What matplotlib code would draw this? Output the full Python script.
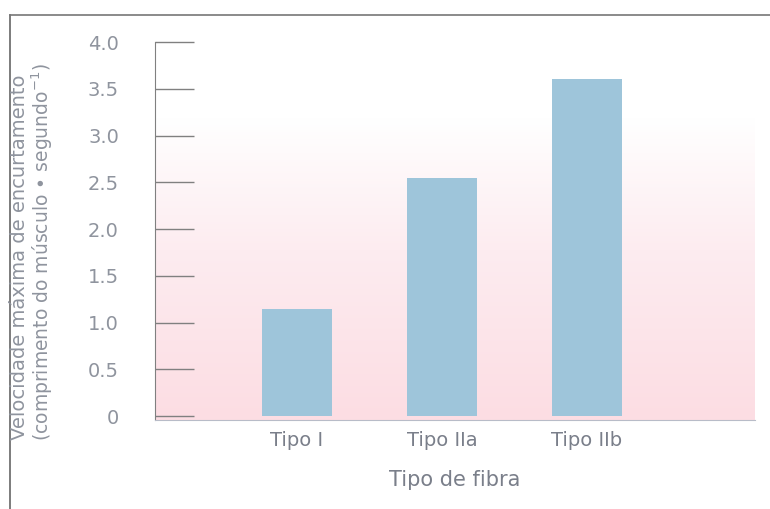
import numpy as np
import matplotlib
matplotlib.use("Agg")
from matplotlib import pyplot as plt
from matplotlib.colors import LinearSegmentedColormap

fiber_types = ['Tipo I', 'Tipo IIa', 'Tipo IIb']
max_velocity = [1.15, 2.55, 3.6]
y_ticks = [0, 0.5, 1.0, 1.5, 2.0, 2.5, 3.0, 3.5, 4.0]
y_tick_labels = ['0', '0.5', '1.0', '1.5', '2.0', '2.5', '3.0', '3.5', '4.0']

text_color = '#8f949e'
bar_color = '#9ec5da'

fig = plt.figure(figsize=(7.7, 5.09), dpi=100)
ax = fig.add_axes([155 / 770, 1 - 420 / 509, 600 / 770, 378 / 509])

# pink gradient background, white at the top
grad = np.linspace(0, 1, 256).reshape(-1, 1)
cmap = LinearSegmentedColormap.from_list(
    'bg', [(0, '#fcdde3'), (0.45, '#fdecf0'), (0.8, '#ffffff'), (1, '#ffffff')])
ax.imshow(grad, extent=[0, 1, 0, 1], transform=ax.transAxes, cmap=cmap,
          aspect='auto', origin='lower', zorder=0)

x = np.arange(len(fiber_types))
ax.bar(x, max_velocity, width=0.48, color=bar_color, zorder=2)

ax.set_xlim(-0.98, 3.16)
ax.set_ylim(-0.04, 4.0)
ax.set_yticks(y_ticks)
ax.set_yticklabels(y_tick_labels, fontsize=14, color=text_color)
ax.set_xticks(x)
ax.set_xticklabels(fiber_types, fontsize=14, color='#7a7f8a')
ax.tick_params(axis='y', direction='in', length=28, width=1, color='#808080', pad=26)
ax.tick_params(axis='x', length=0, pad=8)
for s in ['top', 'right']:
    ax.spines[s].set_visible(False)
ax.spines['left'].set_color('#808080')
ax.spines['bottom'].set_color('#b8bcc8')
ax.spines['left'].set_bounds(-0.04, 4.0)

ax.set_xlabel('Tipo de fibra', fontsize=15, color='#7a7f8a', labelpad=14)
fig.text(20 / 770, 0.495, 'Velocidade máxima de encurtamento', rotation=90,
         ha='center', va='center', fontsize=14, color=text_color)
fig.text(42 / 770, 0.505, '(comprimento do músculo • segundo$^{-1}$)', rotation=90,
         ha='center', va='center', fontsize=13.5, color=text_color)

# scanned frame lines
fig.add_artist(plt.Line2D([10 / 770, 10 / 770], [0, 1 - 15 / 509], color='#666666', lw=1.2))
fig.add_artist(plt.Line2D([10 / 770, 1], [1 - 15 / 509, 1 - 15 / 509], color='#777777', lw=1.2))

fig.savefig('out.png', dpi=100)
